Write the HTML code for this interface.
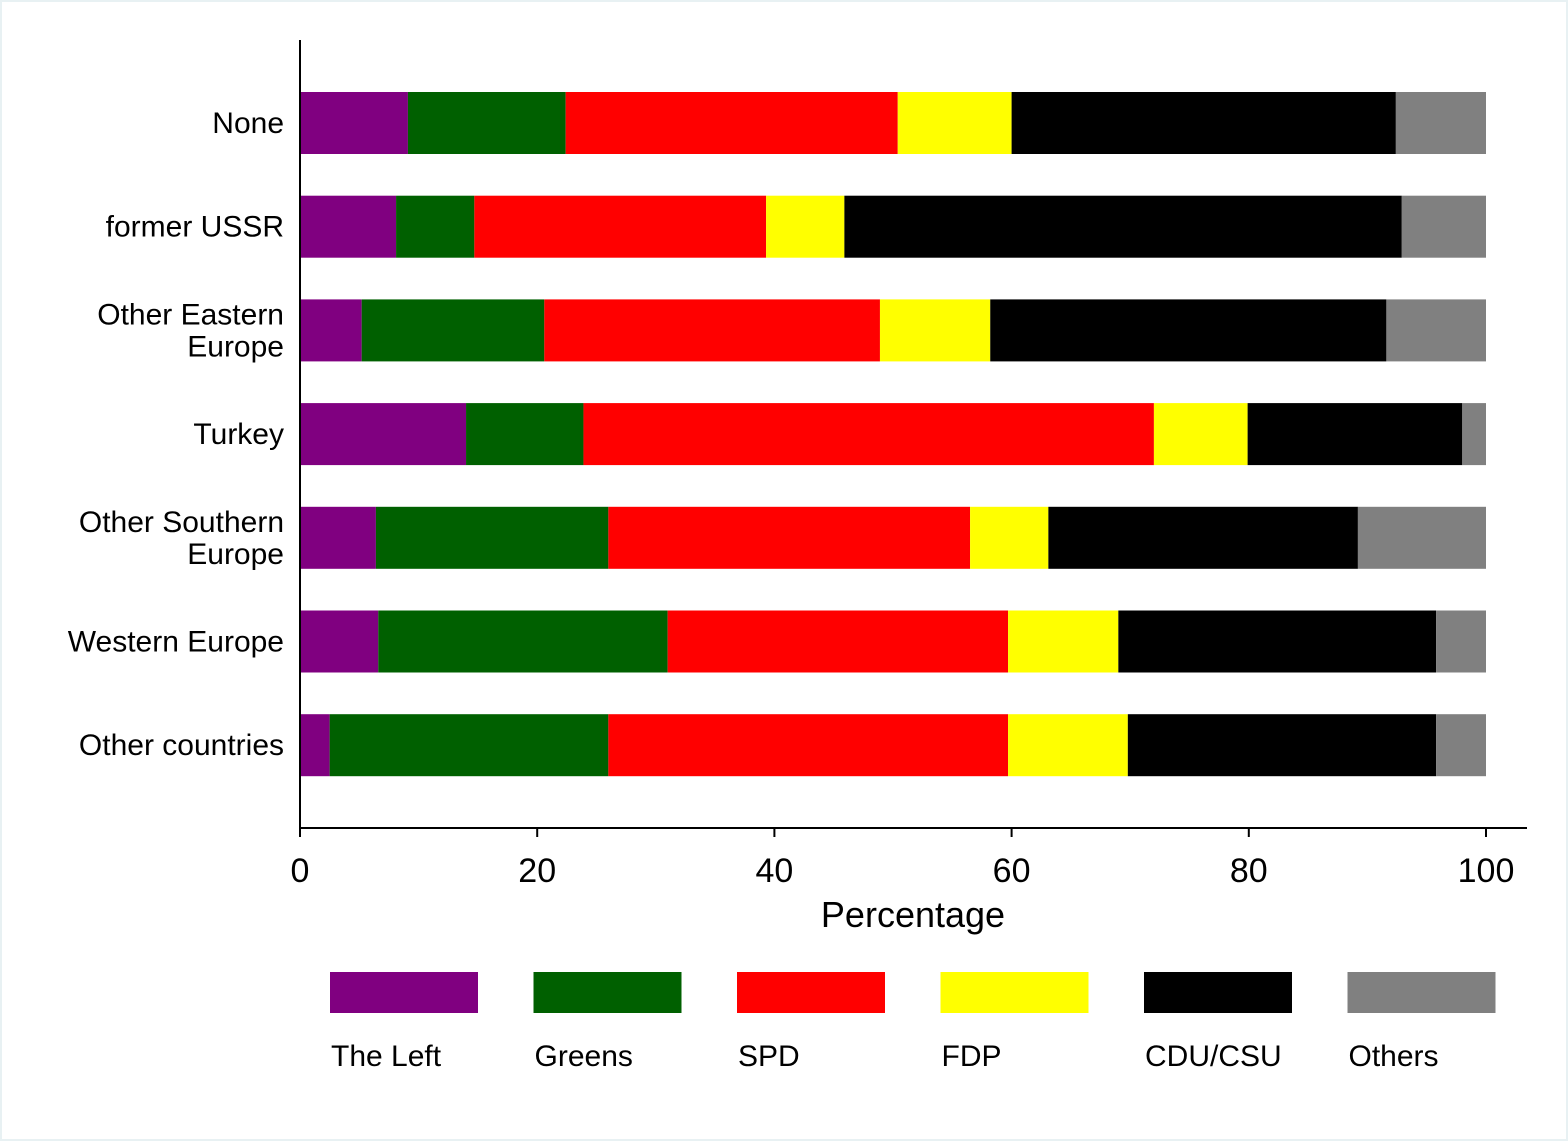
<!DOCTYPE html>
<html><head><meta charset="utf-8"><style>
html,body{margin:0;padding:0;background:#fff}
svg{display:block}
text{font-family:"Liberation Sans",sans-serif;fill:#000}
</style></head><body>
<svg id="chart" width="1568" height="1141">
<rect x="1" y="1" width="1566" height="1139" fill="#fff" stroke="#e8f1f3" stroke-width="2"/>
<g id="bars"></g>
<g id="axes"></g>
<g id="legend"></g>
</svg>
<script>
const categories = ["None","former USSR","Other Eastern|Europe","Turkey","Other Southern|Europe","Western Europe","Other countries"];
const seriesNames = ["The Left","Greens","SPD","FDP","CDU/CSU","Others"];
const seriesColors = ["#800080","#006000","#ff0000","#ffff00","#000000","#808080"];
const left   = [9.1, 8.1, 5.2, 14.0, 6.4, 6.6, 2.5];
const greens = [13.3, 6.6, 15.4, 9.9, 19.6, 24.4, 23.5];
const spd    = [28.0, 24.6, 28.3, 48.1, 30.5, 28.7, 33.7];
const fdp    = [9.6, 6.6, 9.3, 7.9, 6.6, 9.3, 10.1];
const cdu    = [32.4, 47.0, 33.4, 18.1, 26.1, 26.8, 26.0];
const others = [7.6, 7.1, 8.4, 2.0, 10.8, 4.2, 4.2];
const xTicks = [0,20,40,60,80,100];

const series = [left,greens,spd,fdp,cdu,others];
const NS="http://www.w3.org/2000/svg";
const x0=300, x1=1486;
const xs = v => x0 + (x1-x0)*v/100;
const ys = i => 123 + i*103.7;
const barH = 62;
function mk(tag, attrs, parent){const e=document.createElementNS(NS,tag);for(const k in attrs)e.setAttribute(k,attrs[k]);parent.appendChild(e);return e;}
const bars=document.getElementById('bars'), axes=document.getElementById('axes'), legend=document.getElementById('legend');
categories.forEach((c,i)=>{
  let cum=0;
  series.forEach((s,j)=>{
    const r=mk('rect',{x:xs(cum),y:ys(i)-barH/2,width:xs(cum+s[i])-xs(cum),height:barH,fill:seriesColors[j]},bars);
    
    
    cum+=s[i];
  });
  const lines=c.split('|');
  const t=mk('text',{x:284,'text-anchor':'end','font-size':30},axes);
  
  
  if(lines.length==1){t.setAttribute('y',ys(i)+10);t.textContent=c;}
  else lines.forEach((l,k)=>{const ts=mk('tspan',{x:284,y:ys(i)-6+k*32},t);ts.textContent=l;});
});
let ya=mk('line',{x1:300,y1:40,x2:300,y2:829,stroke:'#000','stroke-width':2},axes);


let xa=mk('line',{x1:299,y1:828,x2:1527,y2:828,stroke:'#000','stroke-width':2},axes);


xTicks.forEach(v=>{
  const tk=mk('line',{x1:xs(v),y1:828,x2:xs(v),y2:837,stroke:'#000','stroke-width':2},axes);
  
  
  const tl=mk('text',{x:xs(v),y:882,'text-anchor':'middle','font-size':34},axes);
  
  
  tl.textContent=v;
});
const xt=mk('text',{x:913,y:927,'text-anchor':'middle','font-size':36},axes);


xt.textContent='Percentage';
seriesNames.forEach((n,j)=>{
  const lx=330+j*203.5;
  const g=mk('g',{},legend);
  
  
  mk('rect',{x:lx,y:972,width:148,height:41,fill:seriesColors[j]},g);
  const t=mk('text',{x:lx+1,y:1066,'font-size':30},g);
  t.textContent=n;
});
</script>
</body></html>
